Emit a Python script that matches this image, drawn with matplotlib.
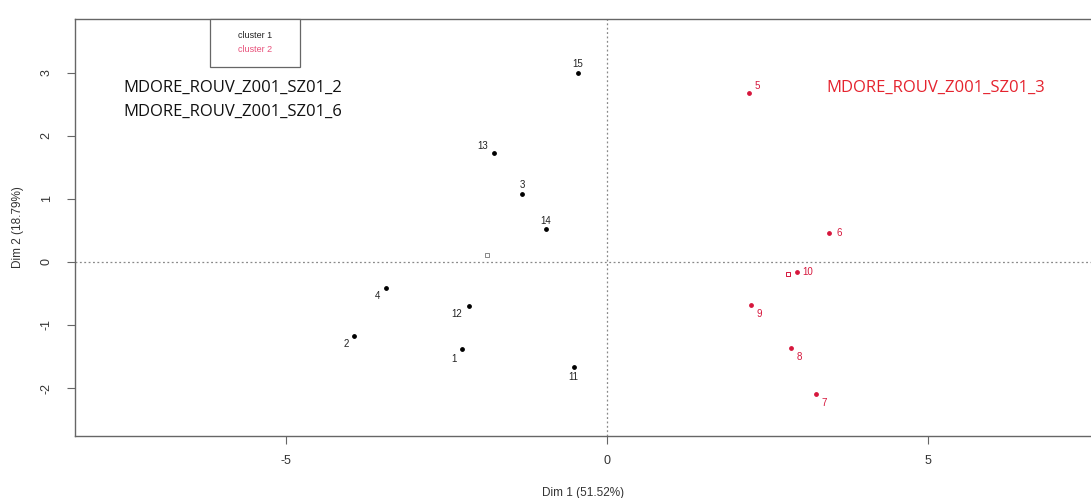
import matplotlib
matplotlib.use("Agg")
import matplotlib.pyplot as plt
from matplotlib.patches import Rectangle

# individuals of each cluster (Dim 1, Dim 2)
c1_labels = ["15", "13", "3", "14", "4", "2", "12", "1", "11"]
c1_x = [-0.45, -1.76, -1.32, -0.95, -3.44, -3.94, -2.15, -2.26, -0.51]
c1_y = [3.00, 1.73, 1.08, 0.52, -0.41, -1.17, -0.70, -1.38, -1.67]
c1_center = [-1.87, 0.11]

c2_labels = ["5", "6", "10", "9", "8", "7"]
c2_x = [2.21, 3.46, 2.96, 2.24, 2.87, 3.26]
c2_y = [2.67, 0.465, -0.16, -0.69, -1.37, -2.10]
c2_center = [2.82, -0.19]

xticks = [-5, 0, 5]
yticks = [-2, -1, 0, 1, 2, 3]

# label offsets in points
c1_off = [(0, 6), (-8, 5), (0, 6), (0, 6), (-6, -6), (-6, -6), (-9, -6), (-6, -7), (-1, -7)]
c2_off = [(6, 5), (7, 0), (8, 0), (6, -6), (6, -6), (6, -6)]

red = "#d6163c"
txtred = "#e5232e"

plt.rcParams['font.family'] = ['Liberation Sans', 'DejaVu Sans']
plt.rcParams['axes.unicode_minus'] = False

fig = plt.figure(figsize=(10.91, 4.98), dpi=100)
ax = fig.add_axes([75/1091, 62/498, 1 - 75/1091, 417/498])

ax.axhline(0, color="#888888", ls=(0, (1.5, 2)), lw=0.9, zorder=1)
ax.axvline(0, color="#888888", ls=(0, (1.5, 2)), lw=0.9, zorder=1)

ax.scatter(c1_x, c1_y, s=6, color="black", zorder=3)
ax.scatter(c2_x, c2_y, s=6, color=red, zorder=3)
ax.scatter([c1_center[0]], [c1_center[1]], s=12, marker="s", facecolor="white",
           edgecolor="#888888", lw=0.7, zorder=3)
ax.scatter([c2_center[0]], [c2_center[1]], s=12, marker="s", facecolor="white",
           edgecolor=red, lw=0.7, zorder=3)

for lab, x, y, o in zip(c1_labels, c1_x, c1_y, c1_off):
    ax.annotate(lab, (x, y), xytext=o, textcoords="offset points",
                ha="center", va="center", fontsize=7, color="#222222")
for lab, x, y, o in zip(c2_labels, c2_x, c2_y, c2_off):
    ax.annotate(lab, (x, y), xytext=o, textcoords="offset points",
                ha="center", va="center", fontsize=7, color=red)

ax.set_xlim(-8.29, 7.54)
ax.set_ylim(-2.76, 3.85)
ax.set_xticks(xticks)
ax.set_yticks(yticks)
ax.set_yticklabels([str(t) for t in yticks], rotation=90, va="center")
ax.tick_params(direction="out", length=6, width=0.8, color="#666666",
               labelsize=9, labelcolor="#333333")
ax.tick_params(axis="x", pad=8)
ax.tick_params(axis="y", pad=10)
for s in ["left", "bottom", "top"]:
    ax.spines[s].set_color("#666666")
    ax.spines[s].set_linewidth(1.0)
ax.spines["right"].set_visible(False)

ax.set_xlabel("Dim 1 (51.52%)", fontsize=8.5, color="#333333", labelpad=14)
ax.set_ylabel("Dim 2 (18.79%)", fontsize=8.5, color="#333333", labelpad=12)

# legend box
leg = Rectangle((210/1091, 1 - 67/498), 90/1091, 48/498, transform=fig.transFigure,
                facecolor="white", edgecolor="#666666", lw=0.9, zorder=5)
fig.patches.append(leg)
fig.text(255/1091, 1 - 35/498, "cluster 1", fontsize=6.5, color="#222222",
         ha="center", va="center", zorder=6)
fig.text(255/1091, 1 - 50/498, "cluster 2", fontsize=6.5, color="#e8507a",
         ha="center", va="center", zorder=6)

# cluster annotations
fig.text(123/1091, 1 - 88/498, "MDORE_ROUV_Z001_SZ01_2", fontsize=12, family="Open Sans",
         color="#111111", ha="left", va="center")
fig.text(123/1091, 1 - 112/498, "MDORE_ROUV_Z001_SZ01_6", fontsize=12, family="Open Sans",
         color="#111111", ha="left", va="center")
fig.text(826/1091, 1 - 88/498, "MDORE_ROUV_Z001_SZ01_3", fontsize=12, family="Open Sans",
         color=txtred, ha="left", va="center")

fig.savefig("out.png", dpi=100)
